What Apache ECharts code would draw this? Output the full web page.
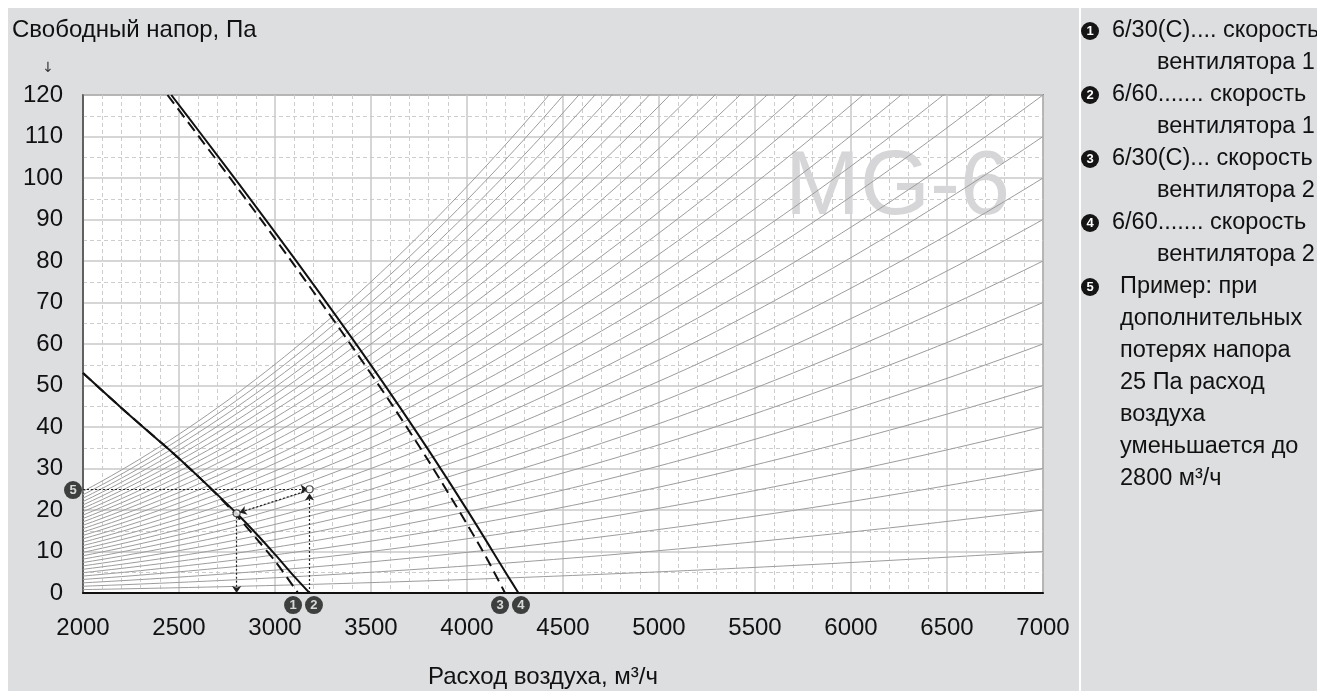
<!DOCTYPE html>
<html>
<head>
<meta charset="utf-8">
<script src="https://cdn.jsdelivr.net/npm/echarts/dist/echarts.min.js"></script>
<style>
html, body { margin: 0; padding: 0; background: #fff; }
#chart { width: 1317px; height: 691px; }
</style>
</head>
<body>
<div id="chart"></div>
<script>
// оси
const xTicks = [2000, 2500, 3000, 3500, 4000, 4500, 5000, 5500, 6000, 6500, 7000];
const yTicks = [0, 10, 20, 30, 40, 50, 60, 70, 80, 90, 100, 110, 120];

// сетевые характеристики: давление на правом краю (7000 м3/ч), p ~ q^2
const systemCurveEndPa = [10, 20, 30, 40, 50, 60, 70, 80, 90, 100, 110, 120, 130, 140, 150,
  160, 170, 180, 190, 200, 210, 220, 230, 240, 250, 260, 270, 280, 290, 300];

// характеристики вентилятора [расход, напор]
const fan1 = [[2000, 53], [2200, 44.6], [2400, 36.5], [2500, 32.4], [2600, 28.1], [2700, 23.6],
  [2800, 18.7], [2900, 13.3], [3000, 7.7], [3100, 1.3], [3120, 0]];                 // 6/30(C) скорость 1
const fan2 = [[2000, 53], [2200, 44.6], [2400, 36.5], [2500, 32.4], [2600, 28.1], [2700, 23.7],
  [2800, 19.2], [2900, 14.4], [3000, 9.3], [3100, 4], [3180, 0]];                   // 6/60 скорость 1
const fan3 = [[2440, 120], [2600, 110.2], [2800, 97.9], [3000, 85.4], [3200, 72.6], [3400, 59.5],
  [3600, 46], [3800, 31.8], [4000, 16.6], [4100, 8.6], [4198, 0]];                   // 6/30(C) скорость 2
const fan4 = [[2460, 120], [2610, 110.9], [2810, 98.7], [3010, 86.3], [3210, 73.7], [3410, 60.8],
  [3610, 47.5], [3810, 33.7], [4010, 19.3], [4210, 4.3], [4268, 0]];                 // 6/60 скорость 2

// пример (5)
const exampleLoss = 25;
const exampleFlowFrom = 3180;
const exampleFlowTo = 2800;
const examplePaTo = 19.2;

// номера у кривых
const badgeNames = ['1', '2', '3', '4', '5'];
const badgePos = [[3094, -2.9], [3203, -2.9], [4172, -2.9], [4281, -2.9], [1948, 24.8]];

const legendRows = [
  ['1', '6/30(C).... скорость'], [null, 'вентилятора 1'],
  ['2', '6/60....... скорость'], [null, 'вентилятора 1'],
  ['3', '6/30(C)... скорость'], [null, 'вентилятора 2'],
  ['4', '6/60....... скорость'], [null, 'вентилятора 2'],
  ['5', 'Пример: при'], [null, 'дополнительных'], [null, 'потерях напора'],
  [null, '25 Па расход'], [null, 'воздуха'], [null, 'уменьшается до'], [null, '2800 м³/ч']
];

const FONT = 'Liberation Sans, Arial, sans-serif';
const chart = echarts.init(document.getElementById('chart'));

let flowSamples = [];
for (let q = 2000; q <= 7000; q += 50) flowSamples.push(q);

let series = [];
systemCurveEndPa.forEach((end) => {
  series.push({
    type: 'line',
    data: flowSamples.map((q) => [q, end * (q / 7000) * (q / 7000)]),
    symbol: 'none',
    lineStyle: { color: '#9c9c9c', width: 1 },
    z: 2,
    silent: true
  });
});

let fanLine = (data, dashed) => ({
  type: 'line',
  data: data,
  smooth: 0.3,
  symbol: 'none',
  lineStyle: { color: '#111', width: 2, type: dashed ? [11, 6] : 'solid' },
  z: 5
});
series.push(fanLine(fan2, false), fanLine(fan1, true), fanLine(fan4, false), fanLine(fan3, true));

// пунктирные стрелки примера
series.push({
  type: 'line',
  data: [],
  z: 6,
  markLine: {
    silent: true,
    symbol: ['none', 'arrow'],
    symbolSize: 7,
    label: { show: false },
    lineStyle: { color: '#222', width: 1.2, type: [2, 2] },
    emphasis: { disabled: true },
    data: [
      [{ coord: [2000, exampleLoss] }, { coord: [exampleFlowFrom - 10, exampleLoss] }],
      [{ coord: [exampleFlowFrom, 0] }, { coord: [exampleFlowFrom, exampleLoss - 1] }],
      [{ coord: [exampleFlowFrom - 10, exampleLoss - 0.3] }, { coord: [exampleFlowTo + 15, examplePaTo + 0.2] }],
      [{ coord: [exampleFlowTo, examplePaTo - 0.8] }, { coord: [exampleFlowTo, 0] }]
    ]
  }
});
series.push({
  type: 'scatter',
  data: [[exampleFlowFrom, exampleLoss], [exampleFlowTo, examplePaTo]],
  symbol: 'circle',
  symbolSize: 7,
  itemStyle: { color: '#fff', borderColor: '#222', borderWidth: 1.2 },
  z: 7
});

// чёрные кружки с номерами
series.push({
  type: 'scatter',
  clip: false,
  data: badgePos.map((p, i) => ({ name: badgeNames[i], value: p })),
  symbol: 'circle',
  symbolSize: 18,
  itemStyle: { color: '#151515' },
  label: {
    show: true, position: 'inside', formatter: '{b}',
    color: '#fff', fontSize: 13, fontWeight: 'bold', fontFamily: FONT
  },
  z: 10
});

// подписи, водяной знак и правая панель
let graphics = [
  { type: 'rect', shape: { x: 0, y: 0, width: 1317, height: 8 }, style: { fill: '#fff' }, z: 0 },
  { type: 'rect', shape: { x: 0, y: 0, width: 8, height: 691 }, style: { fill: '#fff' }, z: 0 },
  { type: 'rect', shape: { x: 1079, y: 8, width: 2, height: 683 }, style: { fill: '#fff' }, z: 0 },
  {
    type: 'text', x: 12, y: 30, z: 3,
    style: { text: 'Свободный напор, Па', font: '24px ' + FONT, fill: '#111', verticalAlign: 'middle' }
  },
  {
    type: 'text', x: 48, y: 68, z: 3,
    style: { text: '↓', font: '14px DejaVu Sans', fill: '#333', align: 'center', verticalAlign: 'middle' }
  },
  {
    type: 'text', x: 543, y: 677, z: 3,
    style: { text: 'Расход воздуха, м³/ч', font: '24px ' + FONT, fill: '#111', align: 'center', verticalAlign: 'middle' }
  },
  {
    type: 'text', x: 785, y: 189, z: 1, silent: true,
    style: { text: 'MG-6', font: '90px ' + FONT, fill: '#d6d6d8', verticalAlign: 'middle' }
  }
];

legendRows.forEach((row, i) => {
  let y = 31 + 32 * i;
  let x = row[0] ? (row[0] === '5' ? 1120 : 1112) : (i > 8 ? 1120 : 1157);
  if (row[0]) {
    graphics.push({ type: 'circle', shape: { cx: 1090, cy: y, r: 9 }, style: { fill: '#151515' }, z: 3 });
    graphics.push({
      type: 'text', x: 1090, y: y + 0.5, z: 4,
      style: { text: row[0], font: 'bold 13px ' + FONT, fill: '#fff', align: 'center', verticalAlign: 'middle' }
    });
  }
  graphics.push({
    type: 'text', x: x, y: y, z: 3,
    style: { text: row[1], font: '23.5px ' + FONT, fill: '#111', verticalAlign: 'middle' }
  });
});

chart.setOption({
  animation: false,
  backgroundColor: '#dddee0',
  grid: {
    left: 83, right: 274, top: 95, bottom: 98,
    show: true, backgroundColor: '#fff', borderColor: '#555', borderWidth: 1.5
  },
  xAxis: {
    type: 'value',
    min: xTicks[0], max: xTicks[xTicks.length - 1], interval: 500,
    axisLine: { show: true, onZero: false, lineStyle: { color: '#111', width: 2 } },
    axisTick: { show: false },
    axisLabel: { fontSize: 24, color: '#111', fontFamily: FONT, margin: 23, formatter: (v) => String(v) },
    splitLine: { show: true, lineStyle: { color: '#c9c9c9', width: 1.5 } },
    minorTick: { show: false, splitNumber: 5 },
    minorSplitLine: { show: true, lineStyle: { color: '#cdcdcd', width: 1, type: [4, 3] } }
  },
  yAxis: {
    type: 'value',
    min: yTicks[0], max: yTicks[yTicks.length - 1], interval: 10,
    axisLine: { show: true, lineStyle: { color: '#444', width: 1.5 } },
    axisTick: { show: false },
    axisLabel: { fontSize: 24, color: '#111', fontFamily: FONT, margin: 20, formatter: (v) => String(v) },
    splitLine: { show: true, lineStyle: { color: '#c9c9c9', width: 1.5 } },
    minorTick: { show: false, splitNumber: 2 },
    minorSplitLine: { show: true, lineStyle: { color: '#cdcdcd', width: 1, type: [4, 3] } }
  },
  graphic: graphics,
  series: series
});
</script>
</body>
</html>
